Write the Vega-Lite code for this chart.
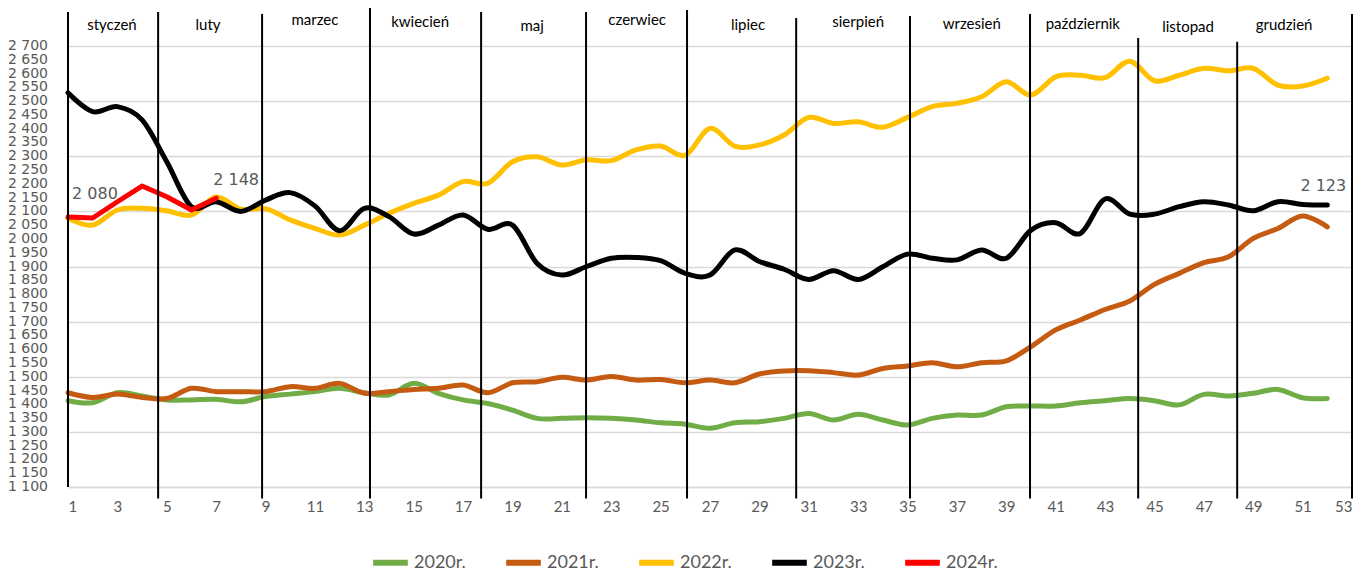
{
  "$schema": "https://vega.github.io/schema/vega-lite/v6.json",
  "width": 1284,
  "height": 441,
  "autosize": {"type": "none"},
  "padding": {"left": 68, "top": 46, "right": 18, "bottom": 85},
  "background": "white",
  "config": {"view": {"stroke": null}, "axis": {"labelOverlap": false}},
  "datasets": {
    "series": [
      {"w":1,"year":"2020r.","v":1413},{"w":2,"year":"2020r.","v":1406},{"w":3,"year":"2020r.","v":1442},{"w":4,"year":"2020r.","v":1430},{"w":5,"year":"2020r.","v":1416},{"w":6,"year":"2020r.","v":1416},{"w":7,"year":"2020r.","v":1418},{"w":8,"year":"2020r.","v":1409},{"w":9,"year":"2020r.","v":1428},{"w":10,"year":"2020r.","v":1437},{"w":11,"year":"2020r.","v":1446},{"w":12,"year":"2020r.","v":1458},{"w":13,"year":"2020r.","v":1442},{"w":14,"year":"2020r.","v":1434},{"w":15,"year":"2020r.","v":1476},{"w":16,"year":"2020r.","v":1440},{"w":17,"year":"2020r.","v":1416},{"w":18,"year":"2020r.","v":1403},{"w":19,"year":"2020r.","v":1379},{"w":20,"year":"2020r.","v":1349},{"w":21,"year":"2020r.","v":1349},{"w":22,"year":"2020r.","v":1351},{"w":23,"year":"2020r.","v":1349},{"w":24,"year":"2020r.","v":1343},{"w":25,"year":"2020r.","v":1333},{"w":26,"year":"2020r.","v":1328},{"w":27,"year":"2020r.","v":1313},{"w":28,"year":"2020r.","v":1333},{"w":29,"year":"2020r.","v":1337},{"w":30,"year":"2020r.","v":1349},{"w":31,"year":"2020r.","v":1367},{"w":32,"year":"2020r.","v":1343},{"w":33,"year":"2020r.","v":1364},{"w":34,"year":"2020r.","v":1343},{"w":35,"year":"2020r.","v":1325},{"w":36,"year":"2020r.","v":1349},{"w":37,"year":"2020r.","v":1361},{"w":38,"year":"2020r.","v":1361},{"w":39,"year":"2020r.","v":1391},{"w":40,"year":"2020r.","v":1394},{"w":41,"year":"2020r.","v":1394},{"w":42,"year":"2020r.","v":1406},{"w":43,"year":"2020r.","v":1413},{"w":44,"year":"2020r.","v":1421},{"w":45,"year":"2020r.","v":1413},{"w":46,"year":"2020r.","v":1398},{"w":47,"year":"2020r.","v":1436},{"w":48,"year":"2020r.","v":1430},{"w":49,"year":"2020r.","v":1440},{"w":50,"year":"2020r.","v":1454},{"w":51,"year":"2020r.","v":1424},{"w":52,"year":"2020r.","v":1421},
      {"w":1,"year":"2021r.","v":1442},{"w":2,"year":"2021r.","v":1425},{"w":3,"year":"2021r.","v":1437},{"w":4,"year":"2021r.","v":1425},{"w":5,"year":"2021r.","v":1421},{"w":6,"year":"2021r.","v":1458},{"w":7,"year":"2021r.","v":1446},{"w":8,"year":"2021r.","v":1446},{"w":9,"year":"2021r.","v":1446},{"w":10,"year":"2021r.","v":1464},{"w":11,"year":"2021r.","v":1458},{"w":12,"year":"2021r.","v":1476},{"w":13,"year":"2021r.","v":1440},{"w":14,"year":"2021r.","v":1446},{"w":15,"year":"2021r.","v":1454},{"w":16,"year":"2021r.","v":1458},{"w":17,"year":"2021r.","v":1470},{"w":18,"year":"2021r.","v":1442},{"w":19,"year":"2021r.","v":1478},{"w":20,"year":"2021r.","v":1482},{"w":21,"year":"2021r.","v":1498},{"w":22,"year":"2021r.","v":1488},{"w":23,"year":"2021r.","v":1501},{"w":24,"year":"2021r.","v":1488},{"w":25,"year":"2021r.","v":1490},{"w":26,"year":"2021r.","v":1478},{"w":27,"year":"2021r.","v":1488},{"w":28,"year":"2021r.","v":1478},{"w":29,"year":"2021r.","v":1510},{"w":30,"year":"2021r.","v":1521},{"w":31,"year":"2021r.","v":1522},{"w":32,"year":"2021r.","v":1515},{"w":33,"year":"2021r.","v":1506},{"w":34,"year":"2021r.","v":1530},{"w":35,"year":"2021r.","v":1539},{"w":36,"year":"2021r.","v":1551},{"w":37,"year":"2021r.","v":1536},{"w":38,"year":"2021r.","v":1551},{"w":39,"year":"2021r.","v":1558},{"w":40,"year":"2021r.","v":1609},{"w":41,"year":"2021r.","v":1670},{"w":42,"year":"2021r.","v":1706},{"w":43,"year":"2021r.","v":1744},{"w":44,"year":"2021r.","v":1775},{"w":45,"year":"2021r.","v":1835},{"w":46,"year":"2021r.","v":1875},{"w":47,"year":"2021r.","v":1914},{"w":48,"year":"2021r.","v":1935},{"w":49,"year":"2021r.","v":2002},{"w":50,"year":"2021r.","v":2038},{"w":51,"year":"2021r.","v":2083},{"w":52,"year":"2021r.","v":2044},
      {"w":1,"year":"2022r.","v":2075},{"w":2,"year":"2022r.","v":2050},{"w":3,"year":"2022r.","v":2105},{"w":4,"year":"2022r.","v":2111},{"w":5,"year":"2022r.","v":2102},{"w":6,"year":"2022r.","v":2087},{"w":7,"year":"2022r.","v":2152},{"w":8,"year":"2022r.","v":2108},{"w":9,"year":"2022r.","v":2110},{"w":10,"year":"2022r.","v":2069},{"w":11,"year":"2022r.","v":2038},{"w":12,"year":"2022r.","v":2014},{"w":13,"year":"2022r.","v":2050},{"w":14,"year":"2022r.","v":2093},{"w":15,"year":"2022r.","v":2129},{"w":16,"year":"2022r.","v":2159},{"w":17,"year":"2022r.","v":2208},{"w":18,"year":"2022r.","v":2202},{"w":19,"year":"2022r.","v":2280},{"w":20,"year":"2022r.","v":2298},{"w":21,"year":"2022r.","v":2268},{"w":22,"year":"2022r.","v":2287},{"w":23,"year":"2022r.","v":2284},{"w":24,"year":"2022r.","v":2323},{"w":25,"year":"2022r.","v":2337},{"w":26,"year":"2022r.","v":2304},{"w":27,"year":"2022r.","v":2401},{"w":28,"year":"2022r.","v":2337},{"w":29,"year":"2022r.","v":2341},{"w":30,"year":"2022r.","v":2377},{"w":31,"year":"2022r.","v":2441},{"w":32,"year":"2022r.","v":2419},{"w":33,"year":"2022r.","v":2425},{"w":34,"year":"2022r.","v":2405},{"w":35,"year":"2022r.","v":2441},{"w":36,"year":"2022r.","v":2480},{"w":37,"year":"2022r.","v":2492},{"w":38,"year":"2022r.","v":2516},{"w":39,"year":"2022r.","v":2570},{"w":40,"year":"2022r.","v":2522},{"w":41,"year":"2022r.","v":2588},{"w":42,"year":"2022r.","v":2594},{"w":43,"year":"2022r.","v":2585},{"w":44,"year":"2022r.","v":2645},{"w":45,"year":"2022r.","v":2574},{"w":46,"year":"2022r.","v":2594},{"w":47,"year":"2022r.","v":2619},{"w":48,"year":"2022r.","v":2610},{"w":49,"year":"2022r.","v":2619},{"w":50,"year":"2022r.","v":2558},{"w":51,"year":"2022r.","v":2555},{"w":52,"year":"2022r.","v":2583},
      {"w":1,"year":"2023r.","v":2530},{"w":2,"year":"2023r.","v":2462},{"w":3,"year":"2023r.","v":2480},{"w":4,"year":"2023r.","v":2432},{"w":5,"year":"2023r.","v":2280},{"w":6,"year":"2023r.","v":2117},{"w":7,"year":"2023r.","v":2135},{"w":8,"year":"2023r.","v":2100},{"w":9,"year":"2023r.","v":2141},{"w":10,"year":"2023r.","v":2168},{"w":11,"year":"2023r.","v":2120},{"w":12,"year":"2023r.","v":2030},{"w":13,"year":"2023r.","v":2111},{"w":14,"year":"2023r.","v":2081},{"w":15,"year":"2023r.","v":2018},{"w":16,"year":"2023r.","v":2050},{"w":17,"year":"2023r.","v":2087},{"w":18,"year":"2023r.","v":2035},{"w":19,"year":"2023r.","v":2050},{"w":20,"year":"2023r.","v":1911},{"w":21,"year":"2023r.","v":1869},{"w":22,"year":"2023r.","v":1900},{"w":23,"year":"2023r.","v":1930},{"w":24,"year":"2023r.","v":1933},{"w":25,"year":"2023r.","v":1921},{"w":26,"year":"2023r.","v":1875},{"w":27,"year":"2023r.","v":1869},{"w":28,"year":"2023r.","v":1960},{"w":29,"year":"2023r.","v":1918},{"w":30,"year":"2023r.","v":1890},{"w":31,"year":"2023r.","v":1853},{"w":32,"year":"2023r.","v":1885},{"w":33,"year":"2023r.","v":1853},{"w":34,"year":"2023r.","v":1899},{"w":35,"year":"2023r.","v":1945},{"w":36,"year":"2023r.","v":1930},{"w":37,"year":"2023r.","v":1924},{"w":38,"year":"2023r.","v":1960},{"w":39,"year":"2023r.","v":1930},{"w":40,"year":"2023r.","v":2032},{"w":41,"year":"2023r.","v":2059},{"w":42,"year":"2023r.","v":2020},{"w":43,"year":"2023r.","v":2145},{"w":44,"year":"2023r.","v":2090},{"w":45,"year":"2023r.","v":2090},{"w":46,"year":"2023r.","v":2117},{"w":47,"year":"2023r.","v":2135},{"w":48,"year":"2023r.","v":2123},{"w":49,"year":"2023r.","v":2102},{"w":50,"year":"2023r.","v":2135},{"w":51,"year":"2023r.","v":2125},{"w":52,"year":"2023r.","v":2123},
      {"w":1,"year":"2024r.","v":2080},{"w":2,"year":"2024r.","v":2076},{"w":3,"year":"2024r.","v":2135},{"w":4,"year":"2024r.","v":2192},{"w":5,"year":"2024r.","v":2153},{"w":6,"year":"2024r.","v":2105},{"w":7,"year":"2024r.","v":2148}
    ],
    "months": [
      {"name":"styczeń","mid":2.78,"ly":2776,"pos":4.65,"top":2823},
      {"name":"luty","mid":6.67,"ly":2776,"pos":8.86,"top":2816},
      {"name":"marzec","mid":11.0,"ly":2794,"pos":13.23,"top":2838},
      {"name":"kwiecień","mid":15.26,"ly":2787,"pos":17.73,"top":2823},
      {"name":"maj","mid":19.8,"ly":2773,"pos":21.98,"top":2823},
      {"name":"czerwiec","mid":24.05,"ly":2794,"pos":26.07,"top":2831},
      {"name":"lipiec","mid":28.54,"ly":2776,"pos":30.49,"top":2802},
      {"name":"sierpień","mid":33.0,"ly":2787,"pos":35.1,"top":2809},
      {"name":"wrzesień","mid":37.6,"ly":2780,"pos":39.96,"top":2816},
      {"name":"październik","mid":42.1,"ly":2780,"pos":44.34,"top":2729},
      {"name":"listopad","mid":46.36,"ly":2769,"pos":48.35,"top":2715},
      {"name":"grudzień","mid":50.25,"ly":2776,"pos":53.0,"top":2816}
    ],
    "yticks": [
      {"t":1100},{"t":1150},{"t":1200},{"t":1250},{"t":1300},{"t":1350},{"t":1400},{"t":1450},{"t":1500},{"t":1550},{"t":1600},{"t":1650},{"t":1700},{"t":1750},{"t":1800},{"t":1850},{"t":1900},{"t":1950},{"t":2000},{"t":2050},{"t":2100},{"t":2150},{"t":2200},{"t":2250},{"t":2300},{"t":2350},{"t":2400},{"t":2450},{"t":2500},{"t":2550},{"t":2600},{"t":2650},{"t":2700}
    ]
  },
  "layer": [
    {
      "data": {"name": "series"},
      "transform": [{"filter": "datum.year !== '2024r.'"}],
      "mark": {"type": "line", "strokeWidth": 5, "interpolate": "cardinal", "strokeCap": "round", "strokeJoin": "round"},
      "encoding": {
        "x": {
          "field": "w", "type": "quantitative",
          "scale": {"domain": [1, 53], "nice": false},
          "axis": {
            "values": [1,3,5,7,9,11,13,15,17,19,21,23,25,27,29,31,33,35,37,39,41,43,45,47,49,51,53],
            "grid": false, "ticks": false, "domain": true, "domainColor": "#d9d9d9", "domainWidth": 1.5,
            "labelFont": "Lato", "labelFontSize": 15, "labelColor": "#595959", "labelPadding": 12, "labelOverlap": false, "title": null
          }
        },
        "y": {
          "field": "v", "type": "quantitative",
          "scale": {"domain": [1100, 2700], "nice": false, "zero": false},
          "axis": {
            "values": [1100,1150,1200,1250,1300,1350,1400,1450,1500,1550,1600,1650,1700,1750,1800,1850,1900,1950,2000,2050,2100,2150,2200,2250,2300,2350,2400,2450,2500,2550,2600,2650,2700],
            "grid": true, "gridColor": "#d9d9d9", "gridWidth": 1.5,
            "ticks": false, "domain": false, "labels": false,
            "title": null
          }
        },
        "color": {
          "field": "year", "type": "nominal",
          "scale": {"domain": ["2020r.", "2021r.", "2022r.", "2023r.", "2024r."], "range": ["#70ad47", "#c55a11", "#ffc000", "#000000", "#ff0000"]},
          "legend": {
            "orient": "none", "legendX": 302, "legendY": 496, "direction": "horizontal", "title": null,
            "symbolType": "stroke", "symbolStrokeWidth": 6, "symbolSize": 1200,
            "labelFont": "Lato", "labelFontSize": 18, "labelColor": "#595959", "labelOffset": 3,
            "columnPadding": 28
          }
        }
      }
    },
    {
      "data": {"name": "yticks"},
      "transform": [{"calculate": "replace(format(datum.t, ','), ',', ' ')", "as": "lab"}],
      "mark": {"type": "text", "font": "DejaVu Sans", "fontSize": 14, "color": "#595959", "align": "right", "baseline": "middle", "dx": -20},
      "encoding": {
        "x": {"datum": 1, "type": "quantitative"},
        "y": {"field": "t", "type": "quantitative"},
        "text": {"field": "lab"}
      }
    },
    {
      "data": {"name": "series"},
      "transform": [{"filter": "datum.year === '2024r.'"}],
      "mark": {"type": "line", "strokeWidth": 5, "interpolate": "linear", "strokeCap": "round", "strokeJoin": "round"},
      "encoding": {
        "x": {"field": "w", "type": "quantitative"},
        "y": {"field": "v", "type": "quantitative"},
        "color": {"field": "year", "type": "nominal"}
      }
    },
    {
      "data": {"name": "months"},
      "mark": {"type": "rule", "color": "#000000", "strokeWidth": 2},
      "encoding": {
        "x": {"field": "pos", "type": "quantitative"},
        "y": {"field": "top", "type": "quantitative"},
        "y2": {"datum": 1058}
      }
    },
    {
      "data": {"values": [{"pos": 1, "top": 2823}]},
      "mark": {"type": "rule", "color": "#000000", "strokeWidth": 2},
      "encoding": {
        "x": {"field": "pos", "type": "quantitative"},
        "y": {"field": "top", "type": "quantitative"},
        "y2": {"datum": 1100}
      }
    },
    {
      "data": {"name": "months"},
      "mark": {"type": "text", "font": "Lato", "fontSize": 15, "color": "#000000", "baseline": "middle", "align": "center"},
      "encoding": {
        "x": {"field": "mid", "type": "quantitative"},
        "y": {"field": "ly", "type": "quantitative"},
        "text": {"field": "name"}
      }
    },
    {
      "data": {"name": "series"},
      "transform": [{"filter": "datum.year === '2024r.' && datum.w === 1"}, {"calculate": "replace(format(datum.v, ','), ',', ' ')", "as": "lab"}],
      "mark": {"type": "text", "font": "DejaVu Sans", "fontSize": 16, "color": "#595959", "dx": 27, "dy": -23},
      "encoding": {
        "x": {"field": "w", "type": "quantitative"},
        "y": {"field": "v", "type": "quantitative"},
        "text": {"field": "lab"}
      }
    },
    {
      "data": {"name": "series"},
      "transform": [{"filter": "datum.year === '2024r.' && datum.w === 7"}, {"calculate": "replace(format(datum.v, ','), ',', ' ')", "as": "lab"}],
      "mark": {"type": "text", "font": "DejaVu Sans", "fontSize": 16, "color": "#595959", "dx": 20, "dy": -18},
      "encoding": {
        "x": {"field": "w", "type": "quantitative"},
        "y": {"field": "v", "type": "quantitative"},
        "text": {"field": "lab"}
      }
    },
    {
      "data": {"name": "series"},
      "transform": [{"filter": "datum.year === '2023r.' && datum.w === 52"}, {"calculate": "replace(format(datum.v, ','), ',', ' ')", "as": "lab"}],
      "mark": {"type": "text", "font": "DejaVu Sans", "fontSize": 16, "color": "#595959", "dx": -4, "dy": -19},
      "encoding": {
        "x": {"field": "w", "type": "quantitative"},
        "y": {"field": "v", "type": "quantitative"},
        "text": {"field": "lab"}
      }
    }
  ]
}
